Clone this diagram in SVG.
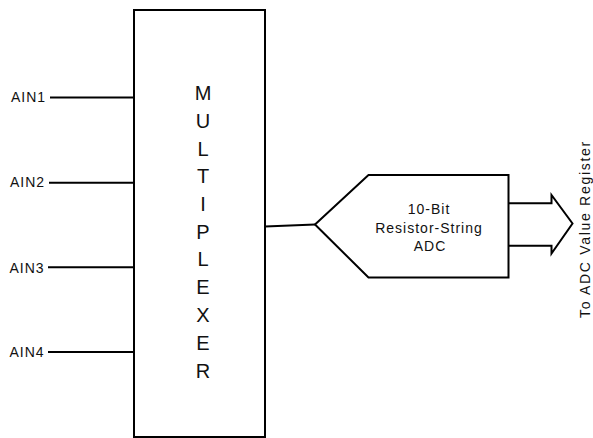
<svg xmlns="http://www.w3.org/2000/svg" width="593" height="438" viewBox="0 0 593 438">
<style>
.ln{fill:none;stroke:#000;stroke-width:2;stroke-linejoin:miter}
.t{font-family:"Liberation Sans",Arial,sans-serif;font-size:14px;fill:#111;letter-spacing:1px}
.big{font-family:"Liberation Sans",Arial,sans-serif;font-size:20px;fill:#111;text-anchor:middle}
</style>
<rect width="593" height="438" fill="#fff"/>
<g id="multiplexer">
<rect x="134" y="10" width="131" height="427" class="ln"/>
<text class="big" x="203" y="100">M</text>
<text class="big" x="203" y="128">U</text>
<text class="big" x="203" y="156">L</text>
<text class="big" x="203" y="183">T</text>
<text class="big" x="203" y="211">I</text>
<text class="big" x="203" y="239">P</text>
<text class="big" x="203" y="266">L</text>
<text class="big" x="203" y="294">E</text>
<text class="big" x="203" y="322">X</text>
<text class="big" x="203" y="350">E</text>
<text class="big" x="203" y="378">R</text>
</g>
<g id="inputs">
<text class="t" x="11" y="102">AIN1</text>
<text class="t" x="10" y="187">AIN2</text>
<text class="t" x="9.5" y="273">AIN3</text>
<text class="t" x="9.5" y="357">AIN4</text>
</g>
<g id="adc">
<polygon points="315,224.5 368.5,175 508.5,175 508.5,277.5 368.5,277.5" class="ln"/>
<text class="t" x="429" y="214" text-anchor="middle">10-Bit</text>
<text class="t" x="429" y="233" text-anchor="middle">Resistor-String</text>
<text class="t" x="430" y="251" text-anchor="middle">ADC</text>
</g>
<g id="output-label">
<text class="t" style="letter-spacing:1.7px" transform="translate(589.5,318) rotate(-90)">To ADC Value Register</text>
</g>
<g id="connectors">
<line x1="50" y1="97.5" x2="134" y2="97.5" class="ln"/>
<line x1="49" y1="182.7" x2="134" y2="182.7" class="ln"/>
<line x1="48" y1="267.3" x2="134" y2="267.3" class="ln"/>
<line x1="48" y1="352" x2="134" y2="352" class="ln"/>
<line x1="265" y1="226.5" x2="315" y2="224.5" class="ln"/>
<polyline points="508.5,203.3 551.5,203.3 551.5,195 572.5,223.5 551.5,253.5 551.5,245.7 508.5,245.7" class="ln"/>
</g>
</svg>
